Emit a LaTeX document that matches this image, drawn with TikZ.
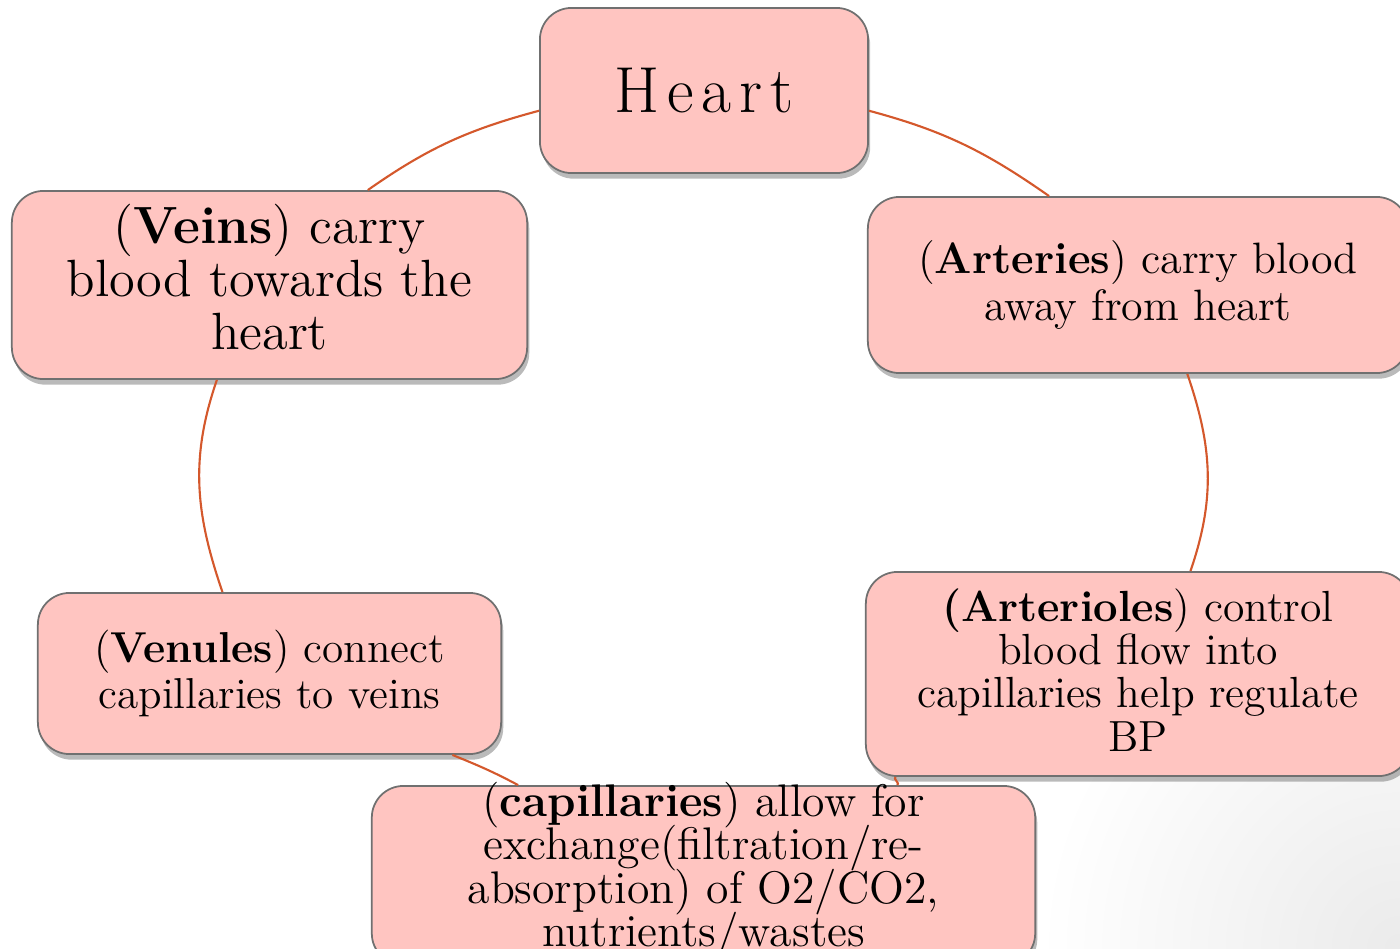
\documentclass[tikz,border=0pt]{standalone}
\usepackage{fontspec}
\usetikzlibrary{shadows}
\definecolor{boxfill}{RGB}{255,197,193}
\definecolor{boxdraw}{RGB}{112,112,112}
\definecolor{conn}{RGB}{212,88,44}
\tikzset{
  box/.style={draw=boxdraw, line width=0.5pt, fill=boxfill, rounded corners=9pt,
    align=center, inner sep=0pt,
    drop shadow={shadow xshift=0.6pt, shadow yshift=-1.6pt, opacity=0.45, fill=black!60}},
  txt/.style={align=center, inner sep=0pt},
  link/.style={draw=conn, line width=0.6pt},
}
\newcommand{\boxfont}[2]{\fontsize{#1}{#2}\selectfont\lineskiplimit=-30pt\relax}
\newcommand{\lsp}{\kern2.2pt}
\begin{document}
\begin{tikzpicture}[x=0.01cm,y=-0.01cm]
\useasboundingbox (0,0) rectangle (1400,949);
\shade[inner color=black!8, outer color=white] (1400,949) circle[radius=3.6cm];

\node[box, minimum width=3.28cm, minimum height=1.65cm, font=\boxfont{18.5}{20}] (heart) at (704,90.5) {H\lsp e\lsp a\lsp r\lsp t};

\node[box, minimum width=5.15cm, minimum height=1.88cm] (veins) at (269.5,285) {};
\node[txt, font=\boxfont{14.9}{15.1}] (veinsText) at (269.5,277) {(\textbf{Veins}) carry\\blood towards the\\heart};

\node[box, minimum width=5.4cm, minimum height=1.76cm, font=\boxfont{12.5}{13.3}] (arteries) at (1138,285) {(\textbf{Arteries}) carry blood\\away from heart};

\node[box, minimum width=5.44cm, minimum height=2.04cm] (arterioles) at (1138,674) {};
\node[txt, font=\boxfont{12.4}{12.3}] (arteriolesText) at (1138,670) {\textbf{(Arterioles}) control\\blood flow into\\capillaries help regulate\\BP};

\node[box, minimum width=4.63cm, minimum height=1.61cm, font=\boxfont{12.3}{13}] (venules) at (269.5,673.5) {(\textbf{Venules}) connect\\capillaries to veins};

\node[box, minimum width=6.63cm, minimum height=1.79cm] (capillaries) at (703.5,875.5) {};
\node[txt, font=\boxfont{13}{12.4}] (capillariesText) at (703.5,870) {(\textbf{capillaries}) allow for\\exchange(filtration/re-\\absorption) of O2/CO2,\\nutrients/wastes};

\draw[link] (heart.187.5) to[out=195,in=35] (veins.44);
\draw[link] (heart.-7.5) to[out=-15,in=145] (arteries.135);
\draw[link] (veins.241.5) to[out=251,in=109] (venules.120);
\draw[link] (arteries.-61) to[out=289,in=71] (arterioles.63);
\draw[link] (venules.-24) to[out=-22,in=152] (capillaries.154);
\draw[link] (arterioles.203.6) to[out=212,in=32] (capillaries.25.6);
\end{tikzpicture}
\end{document}
